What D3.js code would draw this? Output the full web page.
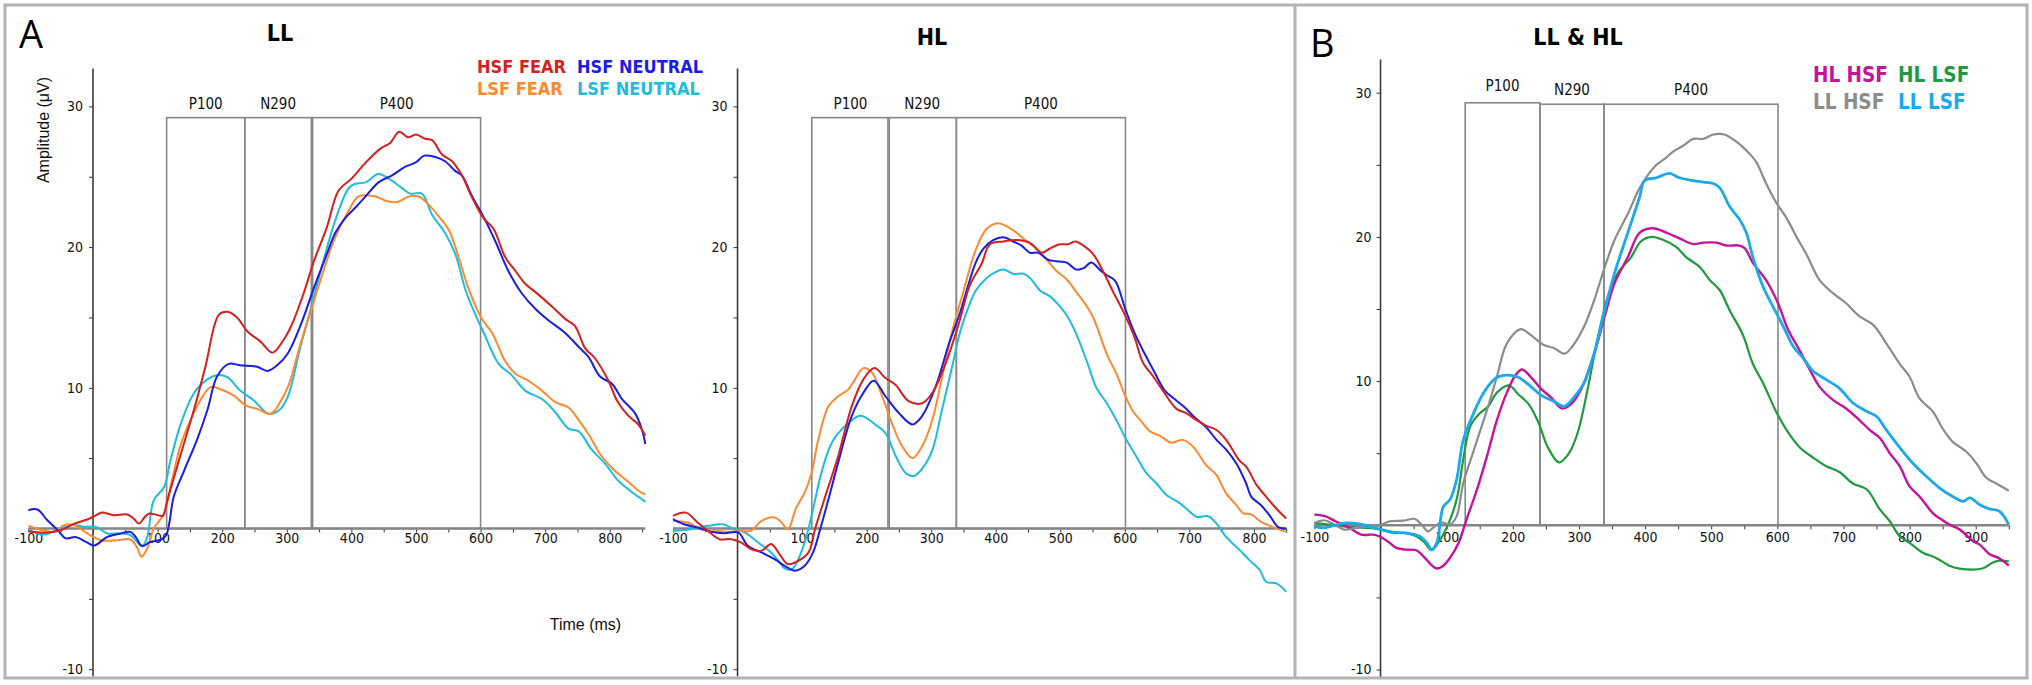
<!DOCTYPE html>
<html>
<head>
<meta charset="utf-8">
<script src="https://cdnjs.cloudflare.com/ajax/libs/d3/7.8.5/d3.min.js"></script>
<style>
  body { margin: 0; background: #fff; }
  svg { display: block; }
  .tick text { font-family: "Liberation Sans Narrow", "DejaVu Sans Condensed", sans-serif; font-size: 14px; fill: #111; }
  .tick line { stroke: #333; stroke-width: 1; }
  .cond { font-family: "DejaVu Sans Condensed", "DejaVu Sans", sans-serif; font-stretch: condensed; }
</style>
</head>
<body>
<script>
/*
ERP waveforms, LL / HL / LL & HL panels.
values are [time (ms), amplitude (uV)]
*/

// ---- panel A, LL ----
var llHsfFear = [[-100,-0.2],[-75,-0.3],[-50,-0.12],[-29,0.35],[-9,0.64],[5,0.95],[14,1.13],[32,0.95],[53,0.99],[63,0.7],[71,0.35],[80,0.8],[87,1.06],[100,0.95],[108,0.9],[115,2.0],[136,5.3],[156,8.4],[174,11.5],[195,15.2],[208,15.4],[223,15.0],[239,14.0],[259,13.3],[278,12.5],[295,13.4],[306,14.3],[326,16.7],[342,19.0],[362,21.4],[380,24.0],[401,24.9],[422,26.0],[445,27.0],[460,27.4],[474,28.2],[488,27.8],[500,28.0],[514,27.7],[525,27.6],[540,26.6],[556,26.1],[571,25.1],[587,23.5],[604,22.1],[620,21.3],[638,19.3],[654,18.3],[669,17.4],[685,16.8],[710,15.8],[731,14.9],[746,14.4],[762,12.8],[777,12.1],[798,10.5],[811,9.1],[829,8.0],[844,7.4],[855,6.6]];
var llHsfNeutral = [[-100,1.3],[-86,1.35],[-71,0.6],[-55,-0.1],[-42,-0.7],[-27,-0.6],[-11,-0.95],[2,-1.2],[22,-0.6],[43,-0.35],[58,-0.24],[66,-0.6],[76,-1.25],[89,-0.95],[105,-0.8],[113,-0.5],[118,0.35],[125,2.25],[141,4.1],[161,6.3],[177,8.4],[192,10.8],[210,11.7],[228,11.6],[254,11.5],[270,11.2],[285,11.6],[301,12.4],[321,14.4],[342,17.1],[362,19.5],[375,21.0],[391,22.1],[406,22.8],[422,23.6],[442,24.6],[463,25.1],[483,25.7],[499,26.0],[513,26.5],[530,26.4],[545,26.1],[561,25.4],[571,25.1],[587,23.6],[604,22.2],[623,20.4],[643,18.3],[664,16.7],[685,15.6],[705,14.8],[731,13.9],[752,12.9],[767,12.2],[785,10.8],[803,10.3],[819,9.2],[839,8.2],[850,7.0],[855,6.0]];
var llLsfFear = [[-100,0.2],[-81,-0.1],[-60,-0.24],[-45,0.24],[-29,0.24],[-9,-0.35],[12,-0.83],[38,-0.83],[58,-0.78],[69,-1.42],[75,-2.0],[84,-1.42],[94,0.0],[110,1.06],[120,2.95],[136,6.0],[151,7.7],[166,9.1],[182,10.05],[197,9.9],[218,9.45],[236,8.75],[254,8.5],[275,8.15],[290,9.0],[303,10.2],[321,13.1],[339,15.7],[356,18.2],[375,20.7],[396,22.6],[411,23.6],[437,23.6],[453,23.3],[471,23.2],[489,23.6],[504,23.6],[520,23.0],[535,22.2],[551,21.2],[566,19.3],[581,17.1],[602,14.9],[618,13.9],[638,11.9],[654,11.0],[674,10.5],[695,9.8],[715,9.0],[736,8.6],[752,7.7],[767,6.7],[788,5.1],[808,4.1],[829,3.3],[844,2.7],[855,2.4]];
var llLsfNeutral = [[-100,-0.1],[-76,-0.43],[-55,-0.07],[-29,0.24],[-14,0.12],[4,0.12],[22,-0.35],[43,-0.35],[58,-0.47],[76,-1.25],[84,-0.6],[94,2.0],[110,2.95],[120,4.85],[136,7.45],[156,9.6],[177,10.6],[192,10.9],[208,10.75],[228,9.8],[249,9.1],[272,8.15],[288,8.4],[301,9.3],[321,12.9],[337,15.6],[356,18.9],[375,21.9],[396,24.2],[406,24.5],[422,24.6],[442,25.2],[463,24.7],[478,24.2],[491,23.8],[509,23.8],[525,22.3],[545,21.0],[561,19.5],[577,16.9],[592,15.2],[604,14.0],[628,11.7],[648,10.9],[669,9.8],[695,9.2],[715,8.3],[736,7.1],[752,6.9],[772,5.6],[793,4.6],[813,3.4],[834,2.6],[849,2.1],[855,1.9]];

// ---- panel A, HL ----
var hlHsfFear = [[-100,0.9],[-80,1.13],[-62,0.43],[-46,-0.17],[-28,-0.76],[-10,-0.76],[6,-1.0],[21,-1.47],[37,-1.58],[52,-1.1],[65,-1.82],[78,-2.53],[94,-2.3],[110,-1.7],[120,-0.05],[136,2.3],[156,5.15],[177,8.7],[195,10.6],[212,11.4],[229,10.7],[245,10.2],[265,9.05],[286,8.9],[302,9.65],[323,11.8],[343,14.6],[360,17.3],[378,18.8],[391,20.2],[412,20.4],[432,20.5],[453,20.3],[471,19.6],[484,19.9],[499,20.2],[512,20.2],[523,20.4],[536,20.1],[551,19.5],[566,18.3],[582,16.8],[600,15.2],[615,13.6],[628,11.8],[644,10.8],[659,9.8],[680,8.5],[695,8.2],[711,7.7],[726,7.3],[742,7.0],[757,6.3],[778,4.8],[788,4.4],[804,3.1],[819,2.25],[835,1.4],[850,0.7]];
var hlHsfNeutral = [[-100,0.66],[-83,0.3],[-62,0.07],[-41,-0.24],[-20,-0.33],[1,-0.28],[16,-1.23],[37,-1.7],[58,-2.2],[73,-2.65],[89,-3.0],[104,-2.65],[117,-1.7],[128,-0.05],[141,2.1],[156,4.7],[177,8.0],[195,9.65],[211,10.5],[229,9.4],[250,8.2],[271,7.4],[286,8.0],[307,10.1],[328,13.2],[343,15.1],[369,18.9],[381,19.9],[396,20.5],[412,20.7],[427,20.4],[440,20.1],[453,19.6],[466,19.6],[481,19.1],[494,19.0],[510,18.9],[525,18.4],[536,18.5],[548,18.9],[561,18.4],[572,18.0],[585,17.6],[600,15.7],[615,13.9],[631,12.4],[646,11.1],[662,9.8],[677,9.2],[693,8.6],[708,7.9],[726,7.2],[742,6.3],[757,5.6],[773,4.6],[788,3.2],[796,2.25],[811,1.65],[824,0.95],[837,0.12],[850,0.0]];
var hlLsfFear = [[-100,0.54],[-77,0.43],[-57,-0.05],[-36,-0.17],[-15,-0.24],[6,-0.17],[21,-0.17],[37,0.54],[58,0.78],[68,0.43],[78,-0.05],[91,1.5],[104,2.55],[115,4.0],[125,6.3],[141,8.7],[156,9.4],[172,9.9],[182,10.6],[195,11.4],[208,11.1],[224,9.4],[239,7.5],[255,5.85],[271,5.0],[286,5.85],[302,7.75],[317,10.8],[333,14.1],[349,16.7],[369,19.8],[386,21.3],[403,21.7],[427,21.2],[448,20.4],[463,19.9],[479,19.1],[494,18.3],[510,17.7],[525,16.8],[541,15.8],[551,15.0],[561,13.8],[572,12.4],[587,11.0],[600,9.5],[613,8.3],[626,7.6],[639,6.9],[654,6.6],[672,6.1],[690,6.3],[706,5.8],[726,4.5],[742,3.8],[757,2.5],[773,1.65],[783,1.1],[796,1.0],[811,0.47],[829,0.12],[850,-0.24]];
var hlLsfNeutral = [[-100,-0.17],[-72,-0.05],[-46,0.19],[-23,0.3],[-5,-0.05],[11,-0.28],[32,-0.99],[52,-1.7],[65,-2.4],[73,-2.84],[84,-2.9],[94,-2.2],[107,-0.52],[117,1.37],[130,3.97],[146,6.1],[167,7.3],[188,8.0],[198,7.9],[213,7.4],[229,6.8],[245,5.15],[260,3.97],[273,3.73],[289,4.44],[302,5.6],[317,8.5],[333,11.6],[341,13.3],[349,14.6],[369,16.9],[386,17.8],[399,18.2],[412,18.4],[427,18.1],[443,18.1],[453,17.8],[469,16.9],[484,16.5],[499,15.8],[512,15.0],[525,13.8],[541,11.9],[556,10.0],[572,8.9],[587,7.7],[600,6.5],[618,5.1],[634,3.9],[649,3.2],[664,2.4],[685,1.8],[698,1.3],[711,0.83],[729,0.87],[742,0.35],[757,-0.6],[778,-1.54],[793,-2.25],[809,-2.95],[819,-3.8],[835,-3.9],[850,-4.5]];

// ---- panel B, LL & HL ----
var bHlHsf = [[-100,0.74],[-83,0.62],[-68,0.28],[-47,-0.18],[-29,-0.65],[-12,-0.65],[-2,-0.76],[14,-1.22],[24,-1.57],[39,-1.69],[54,-1.73],[67,-2.26],[78,-2.8],[85,-3.0],[95,-2.8],[105,-2.26],[118,-1.22],[130,0.4],[146,2.5],[161,4.8],[176,7.3],[191,9.2],[204,10.4],[214,10.8],[227,10.3],[242,9.5],[257,8.9],[275,8.1],[288,8.4],[303,9.4],[323,11.9],[339,14.5],[354,16.8],[374,18.6],[392,20.3],[412,20.6],[432,20.3],[452,19.9],[473,19.5],[488,19.6],[508,19.6],[523,19.4],[543,19.4],[551,19.2],[563,18.2],[583,17.0],[601,15.4],[616,13.6],[634,12.1],[649,10.8],[664,9.6],[684,8.7],[704,8.1],[724,7.3],[740,6.6],[755,6.05],[770,5.0],[785,4.1],[800,2.7],[815,2.0],[835,0.85],[845,0.5],[860,0.05],[876,-0.3],[896,-1.1],[906,-1.34],[921,-2.0],[936,-2.3],[950,-2.8]];
var bHlLsf = [[-100,0.16],[-78,0.05],[-57,-0.07],[-37,-0.14],[-17,-0.18],[1,-0.3],[19,-0.53],[34,-0.53],[54,-0.76],[67,-1.22],[77,-1.73],[87,-1.22],[100,-0.18],[115,1.78],[125,4.55],[136,6.9],[151,7.8],[163,8.25],[176,9.2],[194,9.7],[209,9.05],[224,8.4],[240,7.0],[252,5.5],[270,4.36],[285,5.0],[298,6.4],[313,9.4],[328,12.9],[344,15.9],[359,17.5],[379,18.6],[394,19.7],[410,20.0],[427,19.8],[447,19.3],[462,18.6],[483,17.9],[498,17.0],[513,16.3],[528,14.9],[548,13.2],[563,11.2],[578,9.9],[598,7.9],[614,6.6],[634,5.4],[654,4.7],[674,4.1],[694,3.7],[714,2.9],[735,2.5],[755,1.1],[770,0.28],[785,-0.76],[800,-1.22],[820,-1.9],[840,-2.26],[860,-2.8],[875,-3.0],[910,-3.0],[925,-2.6],[935,-2.45],[950,-2.5]];
var bLlHsf = [[-100,0.16],[-85,0.35],[-70,0.05],[-55,-0.3],[-37,-0.18],[-17,-0.07],[-2,-0.02],[14,0.28],[34,0.32],[52,0.44],[62,0.05],[72,-0.42],[82,-0.07],[92,0.2],[105,0.05],[115,0.62],[125,2.9],[141,5.2],[161,8.0],[176,10.3],[191,12.6],[212,13.6],[227,13.2],[247,12.5],[262,12.3],[278,11.9],[290,12.4],[308,13.8],[323,15.6],[339,17.9],[354,19.8],[374,21.6],[392,23.4],[415,24.9],[432,25.5],[442,25.9],[457,26.3],[473,26.8],[488,26.8],[503,27.1],[520,27.1],[538,26.6],[553,26.0],[568,25.2],[583,23.7],[598,22.4],[614,21.3],[629,20.0],[644,18.8],[664,17.0],[684,16.1],[704,15.4],[724,14.5],[745,13.9],[765,12.6],[785,11.2],[800,10.3],[815,8.8],[835,7.9],[850,6.7],[865,5.8],[886,5.1],[901,4.3],[916,3.3],[931,2.9],[950,2.4]];
var bLlLsf = [[-100,-0.07],[-85,-0.18],[-70,0.0],[-52,0.16],[-35,0.12],[-17,-0.07],[1,-0.3],[19,-0.48],[39,-0.53],[59,-0.76],[70,-1.22],[77,-1.69],[85,-1.22],[95,1.3],[105,1.78],[115,3.16],[125,5.9],[141,7.8],[156,9.2],[174,10.2],[186,10.4],[207,10.3],[224,9.75],[242,9.05],[262,8.6],[278,8.25],[293,8.9],[308,9.9],[323,11.9],[339,14.9],[354,17.5],[374,20.3],[392,22.8],[399,23.9],[417,24.1],[437,24.4],[452,24.1],[473,23.9],[488,23.8],[503,23.7],[513,23.4],[528,22.1],[543,21.2],[553,20.3],[563,18.6],[578,16.6],[593,15.2],[609,13.8],[624,12.4],[639,11.6],[654,10.7],[674,10.1],[694,9.5],[714,8.5],[735,7.9],[750,7.55],[765,6.6],[785,5.4],[805,4.3],[825,3.4],[845,2.6],[865,2.0],[881,1.66],[891,1.9],[906,1.43],[921,1.13],[936,0.97],[950,0.05]];

var namesA = ['HSF FEAR', 'HSF NEUTRAL', 'LSF FEAR', 'LSF NEUTRAL'];
var colorsA = ['#d61f1f', '#1a1ee0', '#fb8a30', '#1fbcdb'];
var namesB = ['HL HSF', 'HL LSF', 'LL HSF', 'LL LSF'];
var colorsB = ['#c4139c', '#1f9a3e', '#8c8c8c', '#1aa9ec'];

// ERP windows: [start ms, end ms, top uV]
var windowNames = ['P100', 'N290', 'P400'];
var windowsLL = [[114, 235, 29.2], [235, 338, 29.2], [340, 600, 29.2]];
var windowsHL = [[115, 235, 29.2], [233, 339, 29.2], [339, 601, 29.2]];
var windowsB = [[128, 241, 29.3], [241, 338, 29.2], [338, 601, 29.2]];

var yTicks = [-10, -5, 5, 10, 15, 20, 25, 30];
var xLabelsA = [-100, 100, 200, 300, 400, 500, 600, 700, 800];
var xLabelsB = [-100, 100, 200, 300, 400, 500, 600, 700, 800, 900];


var svg = d3.select('body').append('svg')
    .attr('width', 2032)
    .attr('height', 685);

// frame + divider
svg.append('rect')
    .attr('x', 5).attr('y', 5)
    .attr('width', 2022).attr('height', 673)
    .attr('fill', 'none')
    .attr('stroke', '#b3b3b3')
    .attr('stroke-width', 3);
svg.append('line')
    .attr('x1', 1295).attr('x2', 1295)
    .attr('y1', 5).attr('y2', 678)
    .attr('stroke', '#b3b3b3')
    .attr('stroke-width', 3);

function drawPanel(p) {
  var g = svg.append('g');

  var x = d3.scaleLinear().domain([-100, p.tEnd]).range(p.xRange);
  var y = d3.scaleLinear().domain([-10, 30]).range(p.yRange);

  // time windows
  g.selectAll('rect.win')
    .data(p.windows)
    .enter()
    .append('rect')
    .attr('class', 'win')
    .attr('x', function (d) { return x(d[0]); })
    .attr('width', function (d) { return x(d[1]) - x(d[0]); })
    .attr('y', function (d) { return y(d[2]); })
    .attr('height', function (d) { return y(0) - y(d[2]); })
    .attr('fill', 'none')
    .attr('stroke', '#878787')
    .attr('stroke-width', 1.6);

  g.selectAll('text.win')
    .data(p.windows)
    .enter()
    .append('text')
    .attr('class', 'win cond')
    .text(function (d, i) { return windowNames[i]; })
    .attr('x', function (d) { return (x(d[0]) + x(d[1])) / 2; })
    .attr('y', function (d, i) { return y(d[2]) - (p.labelLift ? p.labelLift[i] : 9); })
    .attr('text-anchor', 'middle')
    .attr('font-size', '15px')
    .attr('fill', '#111');

  // y axis
  var yAxis = d3.axisLeft(y)
    .tickValues(yTicks)
    .tickSize(4)
    .tickPadding(p.yPad)
    .tickFormat(function (d) { return d % 10 === 0 ? String(d) : ''; });
  g.append('g')
    .attr('transform', 'translate(' + x(0) + ',0)')
    .call(yAxis)
    .select('.domain').remove();
  g.append('line')
    .attr('x1', x(0)).attr('x2', x(0))
    .attr('y1', y(p.yTop)).attr('y2', y(-10.5))
    .attr('stroke', '#3a3a3a')
    .attr('stroke-width', 1.6);

  // x axis at 0 uV
  var xAxis = d3.axisBottom(x)
    .tickValues(d3.range(-100, p.tEnd + 1, 50))
    .tickSize(4)
    .tickPadding(p.xPad)
    .tickFormat(function (d) { return p.xLabels.indexOf(d) >= 0 ? String(d) : ''; });
  g.append('g')
    .attr('transform', 'translate(0,' + y(0) + ')')
    .call(xAxis)
    .select('.domain').remove();
  g.append('line')
    .attr('x1', x(-100)).attr('x2', x(p.tEnd))
    .attr('y1', y(0)).attr('y2', y(0))
    .attr('stroke', '#858585')
    .attr('stroke-width', 2.6);

  // waveforms
  var line = d3.line()
    .x(function (d) { return x(d[0]); })
    .y(function (d) { return y(d[1]); })
    .curve(d3.curveCatmullRom.alpha(0.5));

  p.series.forEach(function (s, i) {
    g.append('path')
      .datum(s)
      .attr('d', line)
      .attr('fill', 'none')
      .attr('stroke', p.colors[i])
      .attr('stroke-width', p.widths[i])
      .attr('stroke-linejoin', 'round');
  });

  // title
  g.append('text')
    .attr('class', 'cond')
    .text(p.title)
    .attr('x', p.titlePos[0])
    .attr('y', p.titlePos[1])
    .attr('text-anchor', 'middle')
    .attr('font-size', '23px')
    .attr('font-weight', 'bold')
    .attr('fill', '#000');

  return {x: x, y: y};
}

function drawLegend(names, colors, x0, y0, dx, dy, size) {
  svg.selectAll(null)
    .data(names)
    .enter()
    .append('text')
    .attr('class', 'cond')
    .text(function (d) { return d; })
    .attr('x', function (d, i) { return x0 + (i % 2) * dx; })
    .attr('y', function (d, i) { return y0 + Math.floor(i / 2) * dy; })
    .attr('font-size', size)
    .attr('font-weight', 'bold')
    .attr('fill', function (d, i) { return colors[i]; });
}

drawPanel({
  tEnd: 855, xRange: [28.4, 645.3], yRange: [669.2, 106.4], yTop: 32.7,
  windows: windowsLL, xLabels: xLabelsA, xPad: 1, yPad: 6,
  series: [llLsfNeutral, llLsfFear, llHsfNeutral, llHsfFear],
  colors: [colorsA[3], colorsA[2], colorsA[1], colorsA[0]],
  widths: [2, 2, 2, 2],
  title: 'LL', titlePos: [280, 41]
});

drawPanel({
  tEnd: 850, xRange: [673, 1286.2], yRange: [669.2, 106.4], yTop: 32.7,
  windows: windowsHL, xLabels: xLabelsA, xPad: 1, yPad: 6,
  series: [hlLsfNeutral, hlLsfFear, hlHsfNeutral, hlHsfFear],
  colors: [colorsA[3], colorsA[2], colorsA[1], colorsA[0]],
  widths: [2, 2, 2, 2],
  title: 'HL', titlePos: [932, 45]
});

drawPanel({
  tEnd: 950, xRange: [1314.4, 2008.8], yRange: [669.5, 92.7], yTop: 32.3,
  windows: windowsB, xLabels: xLabelsB, xPad: 3, yPad: 5, labelLift: [12, 9, 9],
  series: [bHlLsf, bHlHsf, bLlHsf, bLlLsf],
  colors: [colorsB[1], colorsB[0], colorsB[2], colorsB[3]],
  widths: [2.2, 2.4, 2.2, 2.8],
  title: 'LL & HL', titlePos: [1578, 45]
});

drawLegend(namesA, colorsA, 477, 73, 100, 22, '18px');
drawLegend(namesB, colorsB, 1813, 82, 85, 26.5, '20.5px');

// panel letters
svg.append('text')
    .text('A')
    .attr('x', 19).attr('y', 48)
    .attr('font-family', '"Open Sans", "Liberation Sans", sans-serif')
    .attr('font-size', '38px')
    .attr('fill', '#000');
svg.append('text')
    .text('B')
    .attr('x', 1310).attr('y', 57)
    .attr('font-family', '"Open Sans", "Liberation Sans", sans-serif')
    .attr('font-size', '38px')
    .attr('fill', '#000');

// axis titles
svg.append('text')
    .attr('transform', 'rotate(-90)')
    .attr('x', -130)
    .attr('y', 49)
    .attr('text-anchor', 'middle')
    .attr('font-family', '"Liberation Sans", Arial, sans-serif')
    .attr('font-size', '16px')
    .attr('fill', '#111')
    .text('Amplitude (\u03bcV)');

svg.append('text')
    .text('Time (ms)')
    .attr('x', 585.5).attr('y', 630)
    .attr('text-anchor', 'middle')
    .attr('font-family', '"Liberation Sans", Arial, sans-serif')
    .attr('font-size', '16px')
    .attr('fill', '#111');
</script>
</body>
</html>
